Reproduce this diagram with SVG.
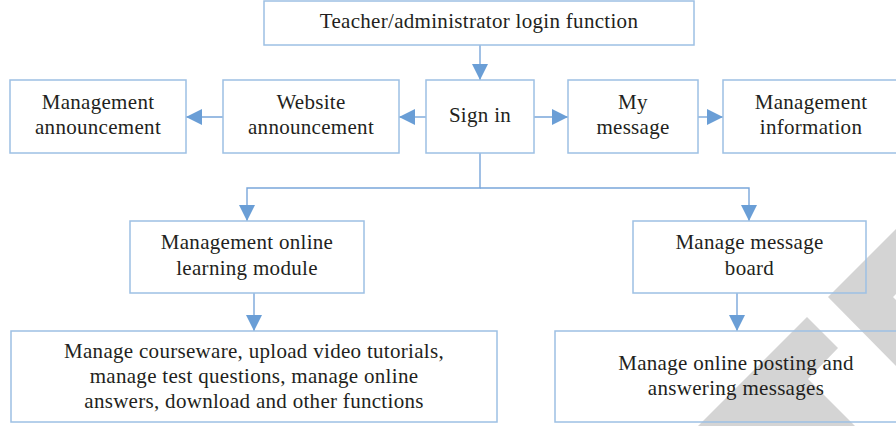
<svg xmlns="http://www.w3.org/2000/svg" width="896" height="426" viewBox="0 0 896 426">
<style>
.box{fill:none;stroke:#9DC0E4;stroke-width:1.5}
.t{font-family:"Liberation Serif","Times New Roman",serif;font-size:21px;letter-spacing:0.3px;fill:#231F20;text-anchor:middle}
.c{fill:none;stroke:#79A6DA;stroke-width:1.4}
.wm{fill:#D4D4D4}
</style>
<defs>
<marker id="ah" viewBox="0 0 16 16" refX="16" refY="8" markerWidth="16" markerHeight="16" markerUnits="userSpaceOnUse" orient="auto">
<path d="M0,0 L16,8 L0,16 Z" fill="#6A9ED6"/>
</marker>
</defs>
<rect width="896" height="426" fill="#FFFFFF"/>
<g id="watermark">
<polygon class="wm" points="828,297 896,229 896,294 893,297 896,300 896,366"/>
<polygon class="wm" points="807,317 838,348 808,379 855,426 698,426"/>
</g>
<g id="connectors">
<line class="c" x1="480" y1="45" x2="480" y2="80" marker-end="url(#ah)"/>
<line class="c" x1="426" y1="117" x2="399" y2="117" marker-end="url(#ah)"/>
<line class="c" x1="223" y1="117" x2="186" y2="117" marker-end="url(#ah)"/>
<line class="c" x1="534" y1="117" x2="568" y2="117" marker-end="url(#ah)"/>
<line class="c" x1="698" y1="117" x2="723" y2="117" marker-end="url(#ah)"/>
<polyline class="c" points="480,153 480,188 247,188 247,221" marker-end="url(#ah)"/>
<polyline class="c" points="480,188 749,188 749,221" marker-end="url(#ah)"/>
<line class="c" x1="254" y1="293" x2="254" y2="331" marker-end="url(#ah)"/>
<line class="c" x1="737" y1="293" x2="737" y2="331" marker-end="url(#ah)"/>
</g>
<g id="login">
<rect class="box" x="264" y="1" width="430" height="44"/>
<text class="t" x="479" y="28">Teacher/administrator login function</text>
</g>
<g id="mgmt-announcement">
<rect class="box" x="10" y="80" width="176" height="73"/>
<text class="t" x="98" y="109">Management</text>
<text class="t" x="98" y="134">announcement</text>
</g>
<g id="website-announcement">
<rect class="box" x="223" y="80" width="176" height="73"/>
<text class="t" x="311" y="109">Website</text>
<text class="t" x="311" y="134">announcement</text>
</g>
<g id="sign-in">
<rect class="box" x="426" y="80" width="108" height="73"/>
<text class="t" x="480" y="122">Sign in</text>
</g>
<g id="my-message">
<rect class="box" x="568" y="80" width="130" height="73"/>
<text class="t" x="633" y="109">My</text>
<text class="t" x="633" y="134">message</text>
</g>
<g id="mgmt-information">
<rect class="box" x="723" y="80" width="176" height="73"/>
<text class="t" x="811" y="109">Management</text>
<text class="t" x="811" y="134">information</text>
</g>
<g id="learning-module">
<rect class="box" x="130" y="221" width="234" height="72"/>
<text class="t" x="247" y="249">Management online</text>
<text class="t" x="247" y="275">learning module</text>
</g>
<g id="message-board">
<rect class="box" x="633" y="221" width="233" height="72"/>
<text class="t" x="749.5" y="249">Manage message</text>
<text class="t" x="749.5" y="275">board</text>
</g>
<g id="courseware">
<rect class="box" x="11" y="331" width="486" height="91"/>
<text class="t" x="254" y="358">Manage courseware, upload video tutorials,</text>
<text class="t" x="254" y="383">manage test questions, manage online</text>
<text class="t" x="254" y="408">answers, download and other functions</text>
</g>
<g id="posting">
<rect class="box" x="555" y="331" width="362" height="91"/>
<text class="t" x="736" y="370">Manage online posting and</text>
<text class="t" x="736" y="395">answering messages</text>
</g>
</svg>
